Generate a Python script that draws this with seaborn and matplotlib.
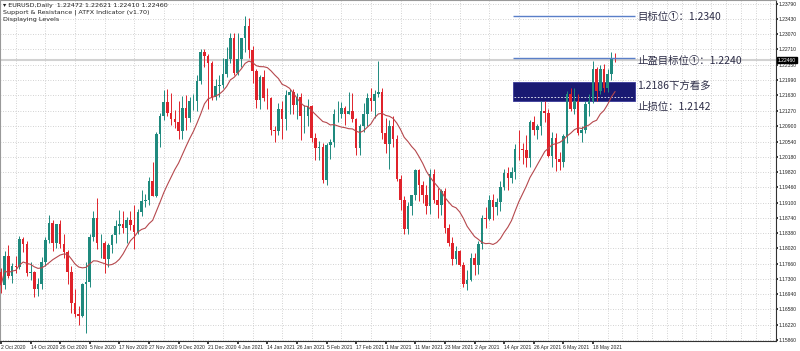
import matplotlib.pyplot as plt
import matplotlib.transforms as mtransforms
from matplotlib.patches import Rectangle
import numpy as np
import pandas as pd
import seaborn as sns

# EURUSD 日线 K 线数据（开、高、低、收）
opens = [1.1746, 1.1716, 1.1783, 1.1736, 1.1760, 1.1757, 1.1825, 1.1813, 1.1744, 1.1746,
         1.1706, 1.1718, 1.1770, 1.1822, 1.1861, 1.1815, 1.1860, 1.1812, 1.1794, 1.1746,
         1.1674, 1.1647, 1.1642, 1.1718, 1.1723, 1.1830, 1.1874, 1.1814, 1.1815, 1.1777,
         1.1809, 1.1833, 1.1855, 1.1859, 1.1849, 1.1870, 1.1857, 1.1840, 1.1888, 1.1914,
         1.1916, 1.1962, 1.1926, 1.2072, 1.2113, 1.2146, 1.2121, 1.2108, 1.2101, 1.2079,
         1.2134, 1.2110, 1.2149, 1.2150, 1.2196, 1.2265, 1.2256, 1.2238, 1.2160, 1.2186,
         1.2188, 1.2213, 1.2249, 1.2297, 1.2216, 1.2249, 1.2297, 1.2326, 1.2270, 1.2220,
         1.2151, 1.2206, 1.2157, 1.2156, 1.2081, 1.2078, 1.2131, 1.2106, 1.2164, 1.2170,
         1.2140, 1.2160, 1.2113, 1.2113, 1.2137, 1.2062, 1.2038, 1.2040, 1.1963, 1.2045,
         1.2052, 1.2118, 1.2120, 1.2133, 1.2119, 1.2126, 1.2106, 1.2039, 1.2091, 1.2119,
         1.2156, 1.2150, 1.2166, 1.2171, 1.2075, 1.2047, 1.2091, 1.2061, 1.1965, 1.1916,
         1.1847, 1.1901, 1.1928, 1.1987, 1.1952, 1.1928, 1.1903, 1.1977, 1.1915, 1.1904,
         1.1937, 1.1849, 1.1815, 1.1777, 1.1795, 1.1763, 1.1717, 1.1727, 1.1779, 1.1762,
         1.1813, 1.1874, 1.1872, 1.1915, 1.1900, 1.1911, 1.1946, 1.1979, 1.1967, 1.1983,
         1.2037, 1.2036, 1.2034, 1.2015, 1.2100, 1.2082, 1.2090, 1.2126, 1.2122, 1.2019,
         1.2062, 1.2013, 1.2005, 1.2066, 1.2165, 1.2131, 1.2150, 1.2075, 1.2080, 1.2142,
         1.2150, 1.2226, 1.2174, 1.2224, 1.2180, 1.2214, 1.22472]
highs = [1.1755, 1.1795, 1.1809, 1.1768, 1.1783, 1.1831, 1.1830, 1.1820, 1.1771, 1.1749,
         1.1732, 1.1781, 1.1830, 1.1880, 1.1868, 1.1860, 1.1870, 1.1837, 1.1797, 1.1761,
         1.1707, 1.1667, 1.1720, 1.1770, 1.1837, 1.1891, 1.1920, 1.1837, 1.1820, 1.1815,
         1.1837, 1.1870, 1.1893, 1.1890, 1.1875, 1.1890, 1.1905, 1.1896, 1.1940, 1.1930,
         1.1970, 1.2005, 1.2077, 1.2122, 1.2176, 1.2177, 1.2168, 1.2128, 1.2150, 1.2162,
         1.2163, 1.2160, 1.2167, 1.2212, 1.2273, 1.2272, 1.2260, 1.2244, 1.2201, 1.2212,
         1.2250, 1.2276, 1.2310, 1.2310, 1.2310, 1.2299, 1.2349, 1.2345, 1.2280, 1.2226,
         1.2211, 1.2222, 1.2180, 1.2160, 1.2090, 1.2145, 1.2150, 1.2175, 1.2178, 1.2178,
         1.2168, 1.2168, 1.2140, 1.2155, 1.2140, 1.2075, 1.2055, 1.2050, 1.2050, 1.2060,
         1.2130, 1.2150, 1.2147, 1.2138, 1.2170, 1.2169, 1.2110, 1.2095, 1.2145, 1.2168,
         1.2180, 1.2176, 1.2243, 1.2180, 1.2110, 1.2105, 1.2113, 1.2070, 1.1975, 1.1925,
         1.1912, 1.1928, 1.1990, 1.1990, 1.1960, 1.1952, 1.1989, 1.1990, 1.1945, 1.1942,
         1.1945, 1.1860, 1.1830, 1.1808, 1.1798, 1.1770, 1.1750, 1.1790, 1.1790, 1.1820,
         1.1880, 1.1900, 1.1928, 1.1930, 1.1920, 1.1960, 1.1990, 1.1995, 1.1994, 1.2048,
         1.2080, 1.2050, 1.2070, 1.2105, 1.2115, 1.2095, 1.2150, 1.2150, 1.2130, 1.2077,
         1.2073, 1.2030, 1.2072, 1.2172, 1.2181, 1.2180, 1.2165, 1.2090, 1.2150, 1.2165,
         1.2245, 1.2230, 1.2234, 1.2236, 1.2225, 1.2266, 1.22621]
lows = [1.1696, 1.1707, 1.1731, 1.1720, 1.1745, 1.1753, 1.1793, 1.1737, 1.1727, 1.1688,
        1.1689, 1.1707, 1.1760, 1.1815, 1.1795, 1.1804, 1.1803, 1.1780, 1.1718, 1.1650,
        1.1640, 1.1622, 1.1640, 1.1603, 1.1710, 1.1820, 1.1801, 1.1780, 1.1745, 1.1758,
        1.1790, 1.1815, 1.1835, 1.1838, 1.1814, 1.1845, 1.1800, 1.1835, 1.1878, 1.1900,
        1.1905, 1.1925, 1.1924, 1.2040, 1.2105, 1.2113, 1.2093, 1.2085, 1.2061, 1.2060,
        1.2080, 1.2100, 1.2128, 1.2126, 1.2190, 1.2230, 1.2130, 1.2153, 1.2153, 1.2160,
        1.2180, 1.2207, 1.2240, 1.2210, 1.2212, 1.2230, 1.2265, 1.2250, 1.2193, 1.2132,
        1.2130, 1.2150, 1.2130, 1.2070, 1.2053, 1.2070, 1.2060, 1.2080, 1.2120, 1.2120,
        1.2108, 1.2058, 1.2075, 1.2090, 1.2052, 1.2010, 1.2010, 1.1955, 1.1952, 1.2012,
        1.2040, 1.2100, 1.2110, 1.2093, 1.2118, 1.2100, 1.2023, 1.2023, 1.2077, 1.2091,
        1.2125, 1.2110, 1.2160, 1.2060, 1.2026, 1.1990, 1.2040, 1.1960, 1.1893, 1.1835,
        1.1837, 1.1880, 1.1915, 1.1913, 1.1910, 1.1883, 1.1883, 1.1908, 1.1873, 1.1880,
        1.1838, 1.1808, 1.1762, 1.1765, 1.1760, 1.1710, 1.1704, 1.1725, 1.1740, 1.1742,
        1.1800, 1.1850, 1.1870, 1.1870, 1.1880, 1.1890, 1.1940, 1.1940, 1.1955, 1.1965,
        1.2010, 1.2002, 1.1995, 1.1995, 1.2070, 1.2060, 1.2070, 1.2100, 1.2017, 1.1995,
        1.1985, 1.1987, 1.1995, 1.2050, 1.2125, 1.2120, 1.2070, 1.2052, 1.2075, 1.2115,
        1.2145, 1.2150, 1.2165, 1.2170, 1.2170, 1.2200, 1.22410]
closes = [1.1715, 1.1783, 1.1736, 1.1760, 1.1757, 1.1825, 1.1813, 1.1744, 1.1746, 1.1706,
          1.1718, 1.1770, 1.1822, 1.1861, 1.1815, 1.1860, 1.1812, 1.1794, 1.1746, 1.1674,
          1.1647, 1.1642, 1.1718, 1.1723, 1.1830, 1.1874, 1.1814, 1.1815, 1.1777, 1.1809,
          1.1833, 1.1855, 1.1859, 1.1849, 1.1870, 1.1857, 1.1840, 1.1888, 1.1914, 1.1916,
          1.1962, 1.1926, 1.2072, 1.2113, 1.2146, 1.2121, 1.2108, 1.2101, 1.2079, 1.2134,
          1.2110, 1.2149, 1.2150, 1.2196, 1.2265, 1.2256, 1.2238, 1.2160, 1.2186, 1.2188,
          1.2213, 1.2249, 1.2297, 1.2216, 1.2249, 1.2297, 1.2326, 1.2270, 1.2220, 1.2151,
          1.2206, 1.2157, 1.2156, 1.2081, 1.2078, 1.2131, 1.2106, 1.2164, 1.2170, 1.2140,
          1.2160, 1.2113, 1.2113, 1.2137, 1.2062, 1.2038, 1.2040, 1.1963, 1.2045, 1.2052,
          1.2118, 1.2120, 1.2133, 1.2119, 1.2126, 1.2106, 1.2039, 1.2091, 1.2119, 1.2156,
          1.2150, 1.2166, 1.2171, 1.2075, 1.2047, 1.2091, 1.2061, 1.1965, 1.1916, 1.1847,
          1.1901, 1.1928, 1.1987, 1.1952, 1.1928, 1.1903, 1.1977, 1.1915, 1.1904, 1.1937,
          1.1849, 1.1815, 1.1777, 1.1795, 1.1763, 1.1717, 1.1727, 1.1779, 1.1762, 1.1813,
          1.1874, 1.1872, 1.1915, 1.1900, 1.1911, 1.1946, 1.1979, 1.1967, 1.1983, 1.2037,
          1.2036, 1.2034, 1.2015, 1.2100, 1.2082, 1.2090, 1.2126, 1.2122, 1.2019, 1.2062,
          1.2013, 1.2005, 1.2066, 1.2165, 1.2131, 1.2150, 1.2075, 1.2080, 1.2142, 1.2150,
          1.2226, 1.2174, 1.2224, 1.2180, 1.2214, 1.2248, 1.22460]

date_labels = ['2 Oct 2020', '14 Oct 2020', '26 Oct 2020', '5 Nov 2020', '17 Nov 2020',
               '27 Nov 2020', '9 Dec 2020', '21 Dec 2020', '4 Jan 2021', '14 Jan 2021',
               '26 Jan 2021', '5 Feb 2021', '17 Feb 2021', '1 Mar 2021', '11 Mar 2021',
               '23 Mar 2021', '2 Apr 2021', '14 Apr 2021', '26 Apr 2021', '6 May 2021',
               '18 May 2021']
price_ticks = [1.15860, 1.16220, 1.16580, 1.16940, 1.17300, 1.17660, 1.18020, 1.18380,
               1.18740, 1.19100, 1.19460, 1.19820, 1.20180, 1.20540, 1.20900, 1.21270,
               1.21630, 1.21990, 1.22350, 1.22710, 1.23070, 1.23430, 1.23790]

# 支撑阻力位
target_line = 1.2351
tp_line = 1.2251
zone_top, zone_bottom, zone_mid = 1.2194, 1.2150, 1.2160
last_price = 1.2246
level_texts = [('目标位①：1.2340', 1.2348), ('止盈目标位①：1.2240', 1.2243),
               ('1.2186下方看多', 1.2185), ('止损位：1.2142', 1.2136)]

sns.set_theme(style='white')
plt.rcParams['font.family'] = ['Noto Sans CJK SC', 'DejaVu Sans']

df = pd.DataFrame({'open': opens, 'high': highs, 'low': lows, 'close': closes})
df['idx'] = np.arange(len(df))
# 均线（14 日简单移动平均）
df['ma'] = df['close'].rolling(14, min_periods=1).mean()
up = df['close'] >= df['open']

bull, bear = '#1f8a7e', '#e0232b'
colors = np.where(up, bull, bear)

fig = plt.figure(figsize=(8, 3.51), dpi=100)
ax = fig.add_axes([0, 0.0285, 0.97, 0.9715])

ax.set_xlim(-0.27, 209.5)
ax.set_ylim(1.15836, 1.23877)

small = ['Liberation Sans', 'DejaVu Sans']

# 网格
ax.set_yticks(price_ticks)
ax.set_yticklabels([f'{p:.5f}' for p in price_ticks], family=small)
ax.set_xticks(np.arange(0, 161, 8))
ax.set_xticklabels(date_labels, ha='left', family=small)
ax.set_xticks(np.arange(0, 210, 4), minor=True)
ax.grid(axis='y', which='major', ls=(0, (1, 2)), color='#c4c4c4', lw=0.6)
ax.grid(axis='x', which='minor', ls=(0, (1, 2)), color='#c4c4c4', lw=0.6)
ax.grid(axis='x', which='major', visible=False)

ax.axhline(last_price, color='#d2d2d2', lw=1.5, zorder=0.5)

# K 线
ax.vlines(df['idx'], df['low'], df['high'], colors=colors, lw=0.7, zorder=2)
body = (df['close'] - df['open']).abs().clip(lower=0.00008)
ax.bar(df['idx'], body, bottom=df[['open', 'close']].min(axis=1), width=0.7,
       color=colors, linewidth=0, zorder=3)

sns.lineplot(data=df, x='idx', y='ma', ax=ax, color='#b5484d', lw=0.8, legend=False, zorder=4)

# 关键位
x0, x1 = 138.4, 171.4
ax.hlines([target_line, tp_line], x0, x1, color='#5a7fc8', lw=1.0, zorder=5)
ax.add_patch(Rectangle((x0, zone_bottom), x1 - x0, zone_top - zone_bottom,
                       facecolor='#1a1a72', edgecolor='#3a3a9a', lw=0.6, zorder=1))
ax.hlines(zone_mid, x0 + 0.3, x1 - 0.3, color='white', ls=(0, (2, 2)), lw=0.6, zorder=1.5)
for txt, y in level_texts:
    ax.text(172.0, y, txt, va='center', ha='left', fontsize=7.5, color='#2e2e48', zorder=6)

# 坐标轴
ax.yaxis.tick_right()
ax.tick_params(axis='y', which='major', labelsize=3.6, length=1.5, pad=0.6, right=True, left=False,
               colors='#222222')
ax.tick_params(axis='x', which='major', labelsize=3.6, length=2, pad=0.8, bottom=True,
               colors='#222222')
ax.tick_params(axis='x', which='minor', length=0)
ax.set_xlabel('')
ax.set_ylabel('')
for side in ['left', 'top']:
    ax.spines[side].set_color('#999999')
    ax.spines[side].set_linewidth(0.8)
for side in ['right', 'bottom']:
    ax.spines[side].set_color('#333333')
    ax.spines[side].set_linewidth(0.8)

trans = mtransforms.blended_transform_factory(ax.transAxes, ax.transData)
ax.text(1.002, last_price, f'{last_price:.5f}', transform=trans, fontsize=3.6, color='white',
        va='center', ha='left', family=small,
        bbox=dict(facecolor='black', edgecolor='black', pad=0.6))

# 左上角信息
header = ['▾ EURUSD,Daily  1.22472 1.22621 1.22410 1.22460',
          'Support & Resistance | ATFX Indicator (v1.70)',
          'Displaying Levels']
for k, line in enumerate(header):
    fig.text(0.004, 0.992 - k * 0.02, line, fontsize=4.6, color='#222222', va='top',
             family=['DejaVu Sans'])

fig.savefig('out.png', dpi=100, facecolor='white')
